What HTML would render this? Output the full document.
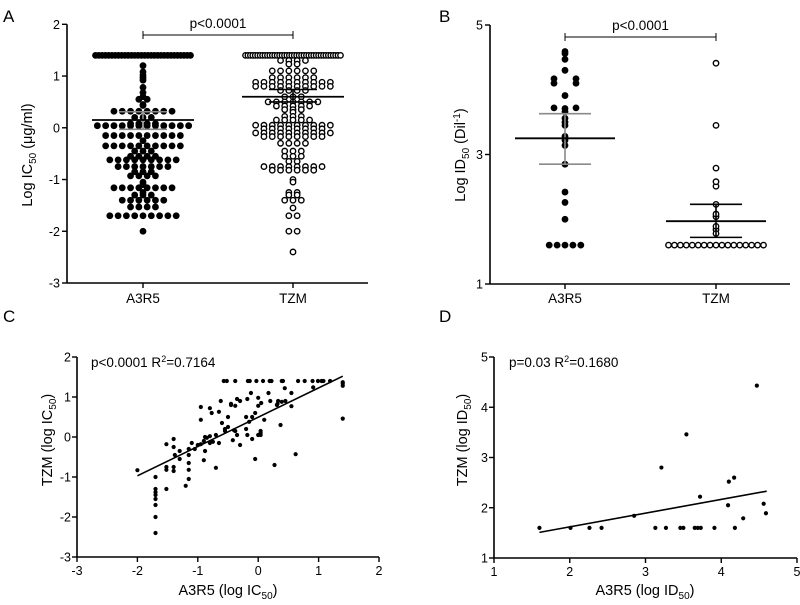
<!DOCTYPE html>
<html><head><meta charset="utf-8"><style>
html,body{margin:0;padding:0;background:#fff;width:800px;height:605px;overflow:hidden}
svg{display:block;font-family:"Liberation Sans",Arial,sans-serif}
</style></head><body>
<svg id="fig" width="800" height="605" viewBox="0 0 800 605"></svg>
<script>
// ---- Panel A data (log IC50)
const aA3R5 = [1.4,1.4,1.4,1.4,1.4,1.4,1.4,1.4,1.4,1.4,1.4,1.4,1.4,1.4,1.4,1.4,1.4,1.4,1.4,1.4,1.4,1.4,1.4,1.4,1.4,1.4,1.4,1.4,1.4,1.4,
1.2,1.08,1.02,0.97,0.92,0.78,0.68,0.6,0.55,0.55,0.43,0.45,
0.32,0.32,0.32,0.32,0.32,0.32,0.32,0.32,0.2,0.2,0.2,
0.08,0.08,0.08,0.08,0.04,0.04,0.04,0.04,0.04,0.04,0.04,0.04,0.04,0.04,0.04,0.04,
-0.15,-0.15,-0.15,-0.15,-0.15,-0.15,-0.15,-0.15,-0.15,-0.15,-0.25,
-0.35,-0.35,-0.35,-0.35,-0.35,-0.35,-0.35,-0.35,-0.35,-0.35,-0.45,-0.45,-0.45,
-0.55,-0.55,-0.55,-0.55,-0.62,-0.62,-0.62,-0.62,-0.62,-0.62,-0.62,-0.62,-0.62,
-0.75,-0.75,-0.75,-0.75,-0.75,-0.75,-0.75,-0.85,-0.85,-0.85,-0.93,-0.93,-0.93,-0.93,
-1.05,-1.1,-1.16,-1.16,-1.16,-1.16,-1.16,-1.16,-1.16,-1.16,-1.25,-1.3,-1.3,-1.3,
-1.4,-1.4,-1.4,-1.4,-1.4,-1.4,-1.53,-1.53,-1.53,-1.53,
-1.7,-1.7,-1.7,-1.7,-1.7,-1.7,-1.7,-1.7,-1.7,-2.0];
const aTZM = [1.4,1.4,1.4,1.4,1.4,1.4,1.4,1.4,1.4,1.4,1.4,1.4,1.4,1.4,1.4,1.4,1.4,1.4,1.4,1.4,1.4,1.4,1.4,1.4,1.4,
1.4,1.4,1.4,1.4,1.4,1.4,1.4,1.4,1.4,1.4,1.4,1.4,1.4,1.4,1.4,
1.3,1.3,1.3,1.3,1.23,1.23,1.1,1.1,1.1,1.1,1.1,1.1,0.97,0.97,0.97,0.97,0.97,0.97,
0.88,0.88,0.88,0.88,0.88,0.88,0.88,0.88,0.88,0.88,0.8,0.8,0.8,0.8,0.8,0.8,0.8,0.8,0.8,0.8,
0.72,0.72,0.72,0.72,0.6,0.6,0.6,0.5,0.5,0.5,0.5,0.5,0.5,0.5,0.42,0.42,0.42,0.42,0.42,
0.35,0.35,0.35,0.3,0.22,0.22,0.22,0.15,0.15,0.15,0.15,0.15,
0.05,0.05,0.05,0.05,0.05,0.05,0.05,0.05,0.05,0.05,-0.02,-0.02,-0.02,-0.02,-0.02,-0.02,-0.02,-0.02,
-0.1,-0.1,-0.1,-0.1,-0.1,-0.1,-0.1,-0.1,-0.1,-0.1,-0.17,-0.17,-0.17,-0.17,-0.17,-0.17,-0.17,-0.17,
-0.3,-0.3,-0.3,-0.3,-0.45,-0.45,-0.45,-0.55,-0.55,-0.55,-0.65,-0.65,
-0.75,-0.75,-0.75,-0.75,-0.75,-0.75,-0.75,-0.75,-0.82,-0.82,-0.82,-0.82,-0.82,-0.82,
-1.0,-1.05,-1.25,-1.25,-1.3,-1.3,-1.4,-1.4,-1.4,-1.55,-1.7,-1.7,-2.0,-2.0,-2.4];
const aStats = {A3R5:[0.15,-0.03,0.31], TZM:[0.6,0.5,0.74]}; // mean, lo, hi
const aYTicks = [2,1,0,-1,-2,-3];
// ---- Panel B data (log ID50)
const bA3R5 = [4.59,4.56,4.47,4.3,4.17,4.17,4.1,4.1,3.91,3.72,3.66,3.71,3.72,3.56,3.5,3.45,3.28,3.22,3.14,2.85,2.42,2.26,2.0,1.6,1.6,1.6,1.6,1.6];
const bTZM = [4.41,3.45,2.79,2.51,2.58,2.23,2.04,2.08,1.84,1.89,1.78,1.6,1.6,1.6,1.6,1.6,1.6,1.6,1.6,1.6,1.6,1.6,1.6,1.6,1.6,1.6,1.6,1.6];
const bStats = {A3R5:[3.25,2.85,3.63], TZM:[1.97,1.72,2.23]};
const bYTicks = [5,3,1];
// ---- Panel C data
const cX = [-0.57,-0.52,-0.38,-0.17,-0.14,-0.03,0.08,0.19,0.22,0.39,0.41,0.66,0.77,0.99,1.05,1.08,1.19,1.4,1.4,1.4,1.4,
0.91,0.44,0.55,0.39,0.33,0.31,0.32,0.55,0.37,0.0,0.05,0.0,-0.05,-0.1,0.1,-0.12,-0.18,-0.2,-0.2,-0.15,-0.18,-0.1,0.04,0.04,0.04,-0.05,0.27,0.62,
-0.3,-0.35,-0.38,-0.45,-0.62,-0.65,-0.8,-0.77,-0.95,-0.95,-0.5,-0.55,-0.4,-0.38,-0.42,-0.35,-0.3,-0.6,-0.65,-0.7,-0.8,-0.85,-0.88,-0.9,-0.95,-0.75,-0.8,
-1.0,-1.05,-1.1,-1.15,-1.15,-1.15,-1.15,-1.15,-1.2,-0.9,-0.7,-0.88,-1.3,-1.3,-1.38,-1.4,-1.4,-1.4,-1.4,-1.52,-1.52,-1.52,-1.52,
-1.7,-1.7,-1.7,-1.7,-1.7,-1.7,-1.7,-1.7,-2.0,-0.55,-0.5,-0.45,0.2,0.17,0.45,0.9,0.0];
const cY = [1.4,1.4,1.4,1.4,1.4,1.4,1.4,1.4,1.4,1.4,1.4,1.4,1.4,1.4,1.4,1.4,1.4,1.37,1.33,1.28,0.46,
1.24,1.22,1.1,0.88,0.9,0.8,0.83,0.77,0.3,0.98,0.85,0.78,0.6,0.5,0.43,1.1,0.95,0.5,0.2,0.38,0.05,-0.05,0.1,0.05,0.15,-0.55,-0.7,-0.43,
0.9,0.95,0.78,0.83,0.9,0.63,0.72,0.6,0.75,0.43,0.5,0.2,0.17,0.15,-0.08,0.05,-0.2,0.35,-0.15,0.05,0.02,-0.02,0.0,-0.1,-0.18,-0.12,-0.15,
-0.2,-0.3,-0.15,-0.3,-0.45,-0.65,-0.82,-1.05,-1.22,-0.58,-0.77,-0.35,-0.35,-0.55,-0.45,-0.05,-0.25,-0.75,-0.85,-0.18,-0.75,-0.82,-1.3,
-1.0,-1.3,-1.38,-1.45,-1.55,-1.7,-2.0,-2.4,-0.83,0.15,0.25,0.8,0.9,1.1,0.9,1.4,0.05];
const cFit = [[-2.0,-0.97],[1.4,1.52]];
const cXTicks = [-3,-2,-1,0,1,2], cYTicks = [2,1,0,-1,-2,-3];
// ---- Panel D data
const dX = [1.6,2.01,2.26,2.42,2.85,3.21,3.13,3.27,3.46,3.5,3.54,3.65,3.69,3.73,3.72,3.91,4.1,4.17,4.09,4.18,4.29,4.47,4.56,4.59];
const dY = [1.6,1.6,1.6,1.6,1.84,2.8,1.6,1.6,1.6,1.6,3.46,1.6,1.6,1.6,2.22,1.6,2.52,2.6,2.05,1.6,1.79,4.43,2.08,1.89];
const dFit = [[1.6,1.51],[4.6,2.33]];
const dXTicks = [1,2,3,4,5], dYTicks = [1,2,3,4,5];

const NS='http://www.w3.org/2000/svg', svg=document.getElementById('fig');
function mk(tag, at, parent, txt){const e=document.createElementNS(NS,tag);for(const k in at)e.setAttribute(k,at[k]);if(txt!==undefined)e.textContent=txt;(parent||svg).appendChild(e);return e;}
function lin(d0,d1,r0,r1){return v=>r0+(v-d0)*(r1-r0)/(d1-d0);}
function grp(name){const g=mk('g',{});return g;}

function panelLabel(t,x,y){const e=mk('text',{x:x,y:y,'font-size':17},svg,t);}

// row-based dot plot layout; rows of near-identical values push apart slightly
function rows(vals, cx, y, spacing, maxW, spread){
  const m=new Map();vals.forEach(v=>{m.set(v,(m.get(v)||0)+1);});
  const pts=[];
  m.forEach((n,v)=>{let sp=n>1?Math.min(spacing,maxW/(n-1)):spacing;
    if(n===2&&spread)sp=spread;
    for(let j=0;j<n;j++)pts.push([cx+(j-(n-1)/2)*sp,y(v)]);});
  return pts;}

function dotPanel(o){
  const g=grp(o.name);
  const y=lin(o.ymin,o.ymax,o.y0,o.y1);
  const ax=mk('g',{},g);
  mk('line',{x1:o.ax,y1:o.y1,x2:o.ax,y2:o.y0,stroke:'#000','stroke-width':1.6},ax);
  o.yt.forEach(t=>{mk('line',{x1:o.ax-5,x2:o.ax,y1:y(t),y2:y(t),stroke:'#000','stroke-width':1.4},ax);
    const tl=mk('text',{x:o.ax-7,y:y(t)+4.5,'font-size':12.5,'text-anchor':'end'},ax,String(t));});
  const xa=mk('g',{},g);
  mk('line',{x1:o.ax,y1:o.y0,x2:o.xend,y2:o.y0,stroke:'#000','stroke-width':1.6},xa);
  o.cats.forEach((c,i)=>{const cx=o.cx[i];mk('line',{x1:cx,x2:cx,y1:o.y0,y2:o.y0+5,stroke:'#000','stroke-width':1.4},xa);
    const tl=mk('text',{x:cx,y:303,'font-size':13.5,'text-anchor':'middle'},xa,c);});
  const yt=mk('text',{x:0,y:0,'font-size':14.5,'text-anchor':'middle',transform:`translate(${o.ytx},${o.yty}) rotate(-90)`},g);
  
  yt.innerHTML=o.ytitle;
  o.series.forEach((s,i)=>{const sg=mk('g',{},g);
    rows(s,o.cx[i],y,o.sp,o.maxW,o.spread).forEach(p=>{const c=mk('circle',{cx:p[0],cy:p[1],r:i?o.r-0.7:o.r,fill:i?'#fff':'#000',stroke:'#000','stroke-width':i?1.4:0},sg);
      });
    const st=o.stats[i], col=i?'#000':o.errCol;
    const eb=mk('g',{},sg);
    mk('line',{x1:o.cx[i],x2:o.cx[i],y1:y(st[1]),y2:y(st[2]),stroke:col,'stroke-width':1.6},eb);
    [st[1],st[2]].forEach(v=>mk('line',{x1:o.cx[i]-o.capw,x2:o.cx[i]+o.capw,y1:y(v),y2:y(v),stroke:col,'stroke-width':1.6},eb));
    mk('line',{x1:o.cx[i]-o.mw,x2:o.cx[i]+o.mw,y1:y(st[0]),y2:y(st[0]),stroke:'#000','stroke-width':1.8},eb);
  });
  const br=mk('g',{},g);
  mk('path',{d:`M${o.cx[0]},${o.by-4}V${o.by+4}M${o.cx[0]},${o.by}H${o.cx[1]}M${o.cx[1]},${o.by-4}V${o.by+4}`,stroke:'#000','stroke-width':1,fill:'none'},br);
  mk('text',{x:(o.cx[0]+o.cx[1])/2,y:o.by-7,'font-size':13.5,'text-anchor':'middle'},br,'p<0.0001');
}

function scatterPanel(o){
  const g=grp(o.name);
  const x=lin(o.xmin,o.xmax,o.x0,o.x1), y=lin(o.ymin,o.ymax,o.y0,o.y1);
  const ya=mk('g',{},g);
  mk('line',{x1:o.x0,y1:o.y1,x2:o.x0,y2:o.y0,stroke:'#000','stroke-width':1.6},ya);
  o.yt.forEach(t=>{mk('line',{x1:o.x0-5,x2:o.x0,y1:y(t),y2:y(t),stroke:'#000','stroke-width':1.4},ya);
    const tl=mk('text',{x:o.x0-6,y:y(t)+4.5,'font-size':12.5,'text-anchor':'end'},ya,String(t));});
  const xa=mk('g',{},g);
  mk('line',{x1:o.x0,y1:o.y0,x2:o.x1,y2:o.y0,stroke:'#000','stroke-width':1.6},xa);
  o.xt.forEach(t=>{mk('line',{x1:x(t),x2:x(t),y1:o.y0,y2:o.y0+5,stroke:'#000','stroke-width':1.4},xa);
    const tl=mk('text',{x:x(t),y:o.y0+18,'font-size':12.5,'text-anchor':'middle'},xa,String(t));});
  const yt=mk('text',{x:0,y:0,'font-size':14.5,'text-anchor':'middle',transform:`translate(${o.ytx},${o.yty}) rotate(-90)`},g);
  yt.innerHTML=o.ytitle;
  const xt=mk('text',{x:o.xtx,y:595,'font-size':14.5,'text-anchor':'middle'},g);
  xt.innerHTML=o.xtitle;
  const st=mk('text',{x:o.stx,y:367,'font-size':13.5},g);st.innerHTML=o.stat;
  const pg=mk('g',{},g);
  o.xs.forEach((v,i)=>{const c=mk('circle',{cx:x(v),cy:y(o.ys[i]),r:2.1,fill:'#000'},pg);});
  const fl=mk('line',{x1:x(o.fit[0][0]),y1:y(o.fit[0][1]),x2:x(o.fit[1][0]),y2:y(o.fit[1][1]),stroke:'#000','stroke-width':1.6},g);
  
}

panelLabel('A',3,22);panelLabel('B',439,22);panelLabel('C',3,322);panelLabel('D',439,322);

dotPanel({name:'panel-a',ymin:-3,ymax:2,y0:283,y1:24.3,ax:67,xend:368,cats:['A3R5','TZM'],cx:[143,293],yt:aYTicks,
  series:[aA3R5,aTZM],stats:[aStats.A3R5,aStats.TZM],sp:8.3,maxW:95,r:3.4,capw:24,mw:51,errCol:'#8a8a8a',by:35,
  ytx:32,yty:155,ytitle:'Log IC<tspan font-size="10" dy="4">50</tspan><tspan dy="-4"> (μg/ml)</tspan>'});
dotPanel({name:'panel-b',ymin:1,ymax:5,y0:284,y1:25,ax:490,xend:790,cats:['A3R5','TZM'],cx:[565,716],yt:bYTicks,
  series:[bA3R5,bTZM],stats:[bStats.A3R5,bStats.TZM],sp:7.9,maxW:95,spread:22,r:3.4,capw:26,mw:50,errCol:'#8a8a8a',by:37,
  ytx:465,yty:155,ytitle:'Log ID<tspan font-size="10" dy="4">50</tspan><tspan dy="-4"> (Dil</tspan><tspan font-size="10" dy="-5">-1</tspan><tspan dy="5">)</tspan>'});
scatterPanel({name:'panel-c',xmin:-3,xmax:2,x0:77,x1:379,ymin:-3,ymax:2,y0:557,y1:357,xt:cXTicks,yt:cYTicks,xs:cX,ys:cY,fit:cFit,
  ytx:52,yty:440,ytitle:'TZM (log IC<tspan font-size="10" dy="4">50</tspan><tspan dy="-4">)</tspan>',
  xtx:228,xtitle:'A3R5 (log IC<tspan font-size="10" dy="4">50</tspan><tspan dy="-4">)</tspan>',
  stx:91,stat:'p&lt;0.0001 R<tspan font-size="9" dy="-5">2</tspan><tspan dy="5">=0.7164</tspan>'});
scatterPanel({name:'panel-d',xmin:1,xmax:5,x0:494,x1:797,ymin:1,ymax:5,y0:558,y1:357,xt:dXTicks,yt:dYTicks,xs:dX,ys:dY,fit:dFit,
  ytx:467,yty:440,ytitle:'TZM (log ID<tspan font-size="10" dy="4">50</tspan><tspan dy="-4">)</tspan>',
  xtx:645,xtitle:'A3R5 (log ID<tspan font-size="10" dy="4">50</tspan><tspan dy="-4">)</tspan>',
  stx:509,stat:'p=0.03  R<tspan font-size="9" dy="-5">2</tspan><tspan dy="5">=0.1680</tspan>'});
</script>
</body></html>
